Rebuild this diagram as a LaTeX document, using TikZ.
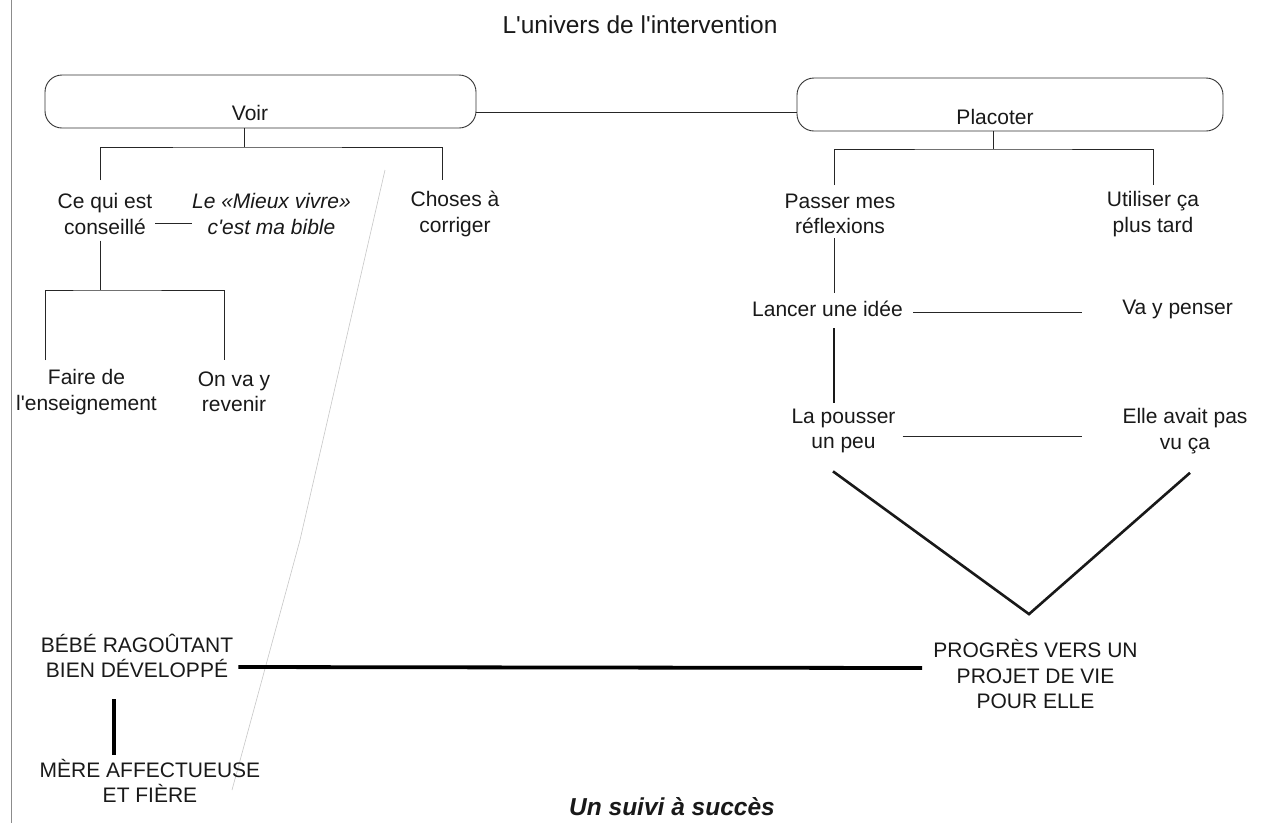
\documentclass[tikz,border=0pt]{standalone}
\usepackage{fontspec}
\setmainfont{Liberation Sans}
\usetikzlibrary{calc}
\newcommand{\sq}{\textquotesingle}
\begin{document}
\begin{tikzpicture}[x=1pt,y=-1pt,
  txt/.style={font=\fontsize{21}{25.5}\selectfont, align=center, inner sep=0pt, text=black!90},
  ittxt/.style={txt, font=\fontsize{21}{25.5}\selectfont\itshape},
  topbox/.style={draw=black!80, line width=0.9pt, rounded corners=17pt, inner sep=0pt},
  thin/.style={draw=black!85, line width=0.9pt},
  mid/.style={draw=black!90, line width=1.5pt},
  heavy/.style={draw=black!90, line width=2.6pt},
  bold/.style={draw=black, line width=3.8pt},
  faint/.style={draw=black!22, line width=0.6pt}]

% page
\fill[white] (0,0) rectangle (1268,823);
\useasboundingbox (0,0) rectangle (1268,823);

% paper edge and stray pencil stroke
\draw[faint, draw=black!45] (11,0) -- (11,823);
\draw[faint] (385,170) -- (300,540) -- (232,790);

% titles
\node[font=\fontsize{24.5}{28}\selectfont, inner sep=0pt, text=black!90] (titre) at (640,25) {L\sq univers de l\sq intervention};
\node[font=\fontsize{24.5}{28}\selectfont\bfseries\itshape, inner sep=0pt, text=black!90] (suivi) at (672,807) {Un suivi à succès};

% top boxes
\node[topbox, minimum width=431pt, minimum height=53pt,
      label={[txt, xshift=-10.5pt, yshift=-11.5pt]center:Voir}] (voir) at (260.5,101.5) {};
\node[topbox, minimum width=426pt, minimum height=53pt,
      label={[txt, xshift=-15pt, yshift=-12.5pt]center:Placoter}] (placoter) at (1010,104.5) {};
\coordinate (lvl) at (0,112);
\draw[thin] (voir.east |- lvl) -- (placoter.west |- lvl);

% left branch
\node[txt] (ce) at (105,214) {Ce qui est\\conseillé};
\node[ittxt] (bible) at (271.5,214) {Le «Mieux vivre»\\c\sq est ma bible};
\node[txt] (chose) at (455,214) {Choses à\\corriger};
\node[txt] (faire) at (86.5,392) {Faire de\\l\sq enseignement};
\node[txt] (revenir) at (234,392) {On va y\\revenir};

\coordinate (vbar) at (244,147);
\coordinate (ceF) at (100,180);
\coordinate (choseF) at (442,180);
\draw[thin] (voir.south -| vbar) -- (vbar);
\draw[thin] (ceF) |- (vbar) -| (choseF);
\draw[thin] ($(ce.east)+(3,9)$) -- ($(bible.west)+(0,9)$);

\coordinate (cbar) at (100,290);
\coordinate (faireF) at (45,360);
\coordinate (revF) at (224,360);
\draw[thin] ($(ce.south -| cbar)+(0,6)$) -- (cbar);
\draw[thin] (faireF) |- (cbar) -| (revF);

% right branch
\node[txt] (passer) at (840,214) {Passer mes\\réflexions};
\node[txt] (utiliser) at (1153,214) {Utiliser ça\\plus tard};
\node[txt] (lancer) at (827.5,309) {Lancer une idée};
\node[txt] (penser) at (1177.5,309) {Va y penser};
\node[txt] (pousser) at (843.5,431) {La pousser\\un peu};
\node[txt] (vuca) at (1185,431) {Elle avait pas\\vu ça};

\coordinate (pbar) at (993,149);
\coordinate (passF) at (834,185);
\coordinate (utilF) at (1153,185);
\draw[thin] (placoter.south -| pbar) -- (pbar);
\draw[thin] (passF) |- (pbar) -| (utilF);
\draw[thin] ($(passer.south -| passF)+(0,4)$) -- ($(lancer.north -| passF)+(0,-8)$);
\draw[mid] ($(lancer.south -| passF)+(0,11)$) -- ($(pousser.north -| passF)+(0,-6)$);
\draw[thin] ($(lancer.east)+(10,3)$) -- ($(penser.west)+(-40,3)$);
\draw[thin] ($(pousser.east)+(7,5)$) -- ($(vuca.west)+(-40,5)$);

% outcomes
\node[txt] (bebe) at (137,656) {BÉBÉ RAGOÛTANT\\BIEN DÉVELOPPÉ};
\node[txt] (mere) at (150,781) {MÈRE AFFECTUEUSE\\ET FIÈRE};
\node[txt] (progres) at (1035.5,674) {PROGRÈS VERS UN\\PROJET DE VIE\\POUR ELLE};

\coordinate (vtip) at ($(progres.north)+(-6.5,-25)$);
\draw[heavy, line join=miter] ($(pousser.south)+(-10.5,18)$) -- (vtip) -- ($(vuca.south)+(5,19)$);

\coordinate (mx) at (114,0);
\draw[bold] ($(bebe.east)+(5,11)$) -- ($(progres.west)+(-11,-6)$);
\draw[bold] ($(bebe.south -| mx)+(0,21)$) -- ($(mere.north -| mx)+(0,-4)$);

\end{tikzpicture}
\end{document}
